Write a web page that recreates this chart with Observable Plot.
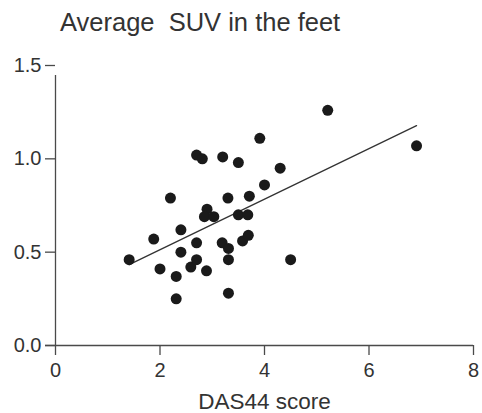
<!DOCTYPE html>
<html>
<head>
<meta charset="utf-8">
<script src="https://cdn.jsdelivr.net/npm/d3@7"></script>
<script src="https://cdn.jsdelivr.net/npm/@observablehq/plot@0.6"></script>
<style>
  body { margin: 0; background: #fff; font-family: "Liberation Sans", Arial, sans-serif; }
  #title { height: 45px; box-sizing: border-box; padding-top: 10px; padding-left: 60px;
           font-size: 25.5px; line-height: 25.5px; color: #333; white-space: pre; }
  svg { display: block; }
</style>
</head>
<body>
<div id="title">Average  SUV in the feet</div>
<div id="chart"></div>
<script>
const das44 = [1.41, 1.88, 2.00, 2.20, 2.31, 2.31, 2.40, 2.40, 2.59, 2.70, 2.70, 2.70,
               2.81, 2.89, 2.90, 2.85, 3.03, 3.20, 3.19, 3.30, 3.31, 3.31, 3.31, 3.50,
               3.50, 3.68, 3.58, 3.69, 3.71, 3.91, 4.00, 4.30, 4.50, 5.21, 6.91];
const suv   = [0.46, 0.57, 0.41, 0.79, 0.37, 0.25, 0.62, 0.50, 0.42, 0.55, 0.46, 1.02,
               1.00, 0.40, 0.73, 0.69, 0.69, 1.01, 0.55, 0.79, 0.52, 0.46, 0.28, 0.98,
               0.70, 0.70, 0.56, 0.59, 0.80, 1.11, 0.86, 0.95, 0.46, 1.26, 1.07];
const fitX = [1.41, 6.91];
const fitY = [0.433, 1.178];
const xTicks = [0, 2, 4, 6, 8];
const yTicks = [0.0, 0.5, 1.0, 1.5];
const xLabel = "DAS44 score";

const pts = das44.map((x, i) => ({x, y: suv[i]}));
const fit = fitX.map((x, i) => ({x, y: fitY[i]}));

const axisColor = "#4a4a4a";
const textColor = "#333";

const plot = Plot.plot({
  width: 482,
  height: 368,
  marginTop: 20,
  marginBottom: 68,
  marginLeft: 55,
  marginRight: 9,
  style: {fontFamily: "Liberation Sans, Arial, sans-serif", color: textColor, background: "#fff"},
  x: {domain: [0, 8]},
  y: {domain: [0, 1.5]},
  marks: [
    Plot.axisX(xTicks, {tickSize: 10, tickPadding: 7, fontSize: 20, stroke: axisColor, strokeWidth: 1.3, fill: textColor, label: null, tickFormat: d => String(d)}),
    Plot.axisY(yTicks, {tickSize: 10, tickPadding: 4, fontSize: 20, stroke: axisColor, strokeWidth: 1.3, fill: textColor, label: null, tickFormat: d3.format(".1f")}),
    Plot.ruleY([0], {x1: 0, x2: 8, insetLeft: -10, stroke: axisColor, strokeWidth: 1.3}),
    Plot.ruleX([0], {y1: 0, y2: 1.5, insetBottom: -10, stroke: axisColor, strokeWidth: 1.3}),
    Plot.line(fit, {x: "x", y: "y", stroke: "#333", strokeWidth: 1.3}),
    Plot.dot(pts, {x: "x", y: "y", r: 5.5, fill: "#1a1a1a", stroke: "none"}),
    Plot.text([xLabel], {x: 4, frameAnchor: "bottom", lineAnchor: "top", dy: 48, fontSize: 22.5, fill: textColor, text: d => d})
  ]
});
document.getElementById("chart").appendChild(plot);
</script>
</body>
</html>
